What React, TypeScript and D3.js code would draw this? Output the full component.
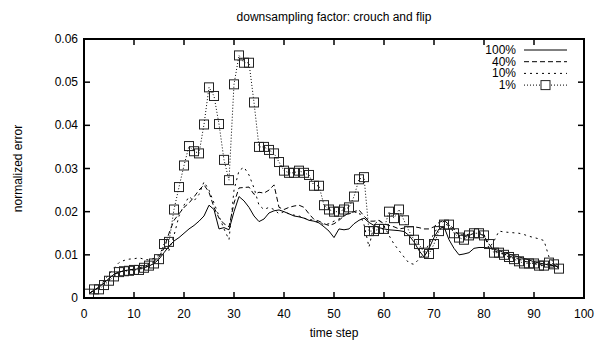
import React, { useRef, useEffect } from 'react';
import * as d3 from 'd3';

// time steps 1..95
const steps = d3.range(1, 96);

const full = [
  0.001, 0.0018, 0.0025, 0.0035, 0.0045, 0.0055, 0.006, 0.0063, 0.0065, 0.0066,
  0.0068, 0.007, 0.0074, 0.008, 0.009, 0.0105, 0.012, 0.0132, 0.014, 0.015,
  0.016, 0.0168, 0.0178, 0.019, 0.0215, 0.0205, 0.016, 0.0163, 0.0158, 0.02,
  0.0235, 0.0225, 0.021, 0.019, 0.0177, 0.0183, 0.0197, 0.0202, 0.0204, 0.02,
  0.0195, 0.019, 0.0188, 0.0185, 0.018, 0.0178, 0.0174, 0.0165, 0.0155, 0.014,
  0.016, 0.0158, 0.016, 0.0172, 0.018, 0.0185, 0.0175, 0.0168, 0.0163, 0.016,
  0.0158, 0.0157, 0.0156, 0.0154, 0.0145, 0.013, 0.011, 0.0095, 0.0115, 0.014,
  0.016, 0.0165, 0.0135, 0.0115, 0.01, 0.0102, 0.0105, 0.0115, 0.0117, 0.0117,
  0.0116, 0.0113, 0.011, 0.0105, 0.0102, 0.0098, 0.0095, 0.0092, 0.0088, 0.0084,
  0.0081, 0.0079, 0.0076, 0.0075, 0.0073,
];

const forty = [
  0.001, 0.0018, 0.0025, 0.0035, 0.0045, 0.0055, 0.006, 0.0063, 0.0065, 0.0067,
  0.007, 0.0073, 0.0078, 0.0085, 0.0095, 0.0115, 0.015, 0.018, 0.0195, 0.021,
  0.022, 0.0234, 0.025, 0.0262, 0.0245, 0.021, 0.0185, 0.0172, 0.0165, 0.022,
  0.0255, 0.0256, 0.0257, 0.024, 0.0245, 0.0243, 0.025, 0.0262, 0.021, 0.0205,
  0.021, 0.0213, 0.0215, 0.021, 0.0195, 0.0182, 0.0178, 0.0172, 0.0168, 0.0172,
  0.018, 0.019, 0.0197, 0.02, 0.0204, 0.019, 0.0178, 0.0178, 0.018, 0.0172,
  0.0168, 0.0165, 0.016, 0.0162, 0.0165, 0.0165, 0.0163, 0.016, 0.016, 0.0165,
  0.0175, 0.018, 0.017, 0.016, 0.0145, 0.0142, 0.0145, 0.015, 0.015, 0.0143,
  0.0125, 0.011, 0.0105, 0.0102, 0.0098, 0.0093, 0.009, 0.0085, 0.0083, 0.008,
  0.0078, 0.0075, 0.0078, 0.0076, 0.007,
];

const ten = [
  0.001, 0.0018, 0.0025, 0.004, 0.0055, 0.007, 0.0082, 0.0087, 0.009, 0.0091,
  0.0093, 0.009, 0.0088, 0.0092, 0.01, 0.012, 0.011, 0.0145, 0.019, 0.0215,
  0.0235, 0.0225, 0.024, 0.0269, 0.025, 0.022, 0.019, 0.016, 0.0135, 0.025,
  0.0295, 0.0303, 0.0285, 0.0255, 0.0215, 0.0205, 0.021, 0.0205, 0.0195, 0.02,
  0.0195, 0.0192, 0.019, 0.0185, 0.0182, 0.018, 0.0175, 0.017, 0.0172, 0.0178,
  0.0183, 0.019, 0.0195, 0.0198, 0.02, 0.017, 0.0118, 0.017, 0.018, 0.0168,
  0.0145, 0.0125, 0.011, 0.0095, 0.0081, 0.0078, 0.009, 0.0104, 0.0125, 0.015,
  0.0168, 0.0178, 0.0165, 0.0155, 0.0148, 0.0145, 0.0148, 0.015, 0.0152, 0.0148,
  0.0115, 0.0132, 0.0155, 0.0153, 0.0152, 0.0151, 0.015, 0.0147, 0.0143, 0.014,
  0.0137, 0.0133, 0.0095, 0.0082, 0.0075,
];

const one = [
  0.001, 0.002, 0.002, 0.003, 0.004, 0.005, 0.006, 0.0062, 0.0063, 0.0065,
  0.0065, 0.007, 0.0075, 0.008, 0.009, 0.0125, 0.013, 0.0205, 0.0257, 0.0307,
  0.0352, 0.034, 0.0335, 0.0402, 0.0488, 0.0468, 0.0403, 0.032, 0.0273, 0.0495,
  0.0562, 0.0545, 0.0545, 0.0453, 0.035, 0.035, 0.0343, 0.0335, 0.0315, 0.0295,
  0.029, 0.029, 0.0295, 0.029, 0.0285, 0.026, 0.026, 0.0215, 0.0205, 0.02,
  0.02, 0.0205, 0.021, 0.0235, 0.0275, 0.028, 0.0155, 0.0155, 0.016, 0.016,
  0.02, 0.0185, 0.0205, 0.018, 0.0155, 0.0135, 0.0125, 0.0105, 0.0102, 0.0125,
  0.0155, 0.017, 0.017, 0.015, 0.014, 0.0135, 0.0145, 0.015, 0.015, 0.0145,
  0.0125, 0.0105, 0.0105, 0.01, 0.0095, 0.009, 0.0085, 0.008, 0.008, 0.008,
  0.0075, 0.0075, 0.0082, 0.0078, 0.0068,
];

const seriesNames = ['100%', '40%', '10%', '1%'];
const seriesValues = [full, forty, ten, one];
const dashes = ['none', '5,3', '2,4', '1,2'];

const xTicks = d3.range(0, 101, 10);
const yTicks = [0, 0.01, 0.02, 0.03, 0.04, 0.05, 0.06];

const W = 597;
const H = 344;
const font = '"Liberation Sans", Arial, Helvetica, sans-serif';

const App: React.FC = () => {
  const svgRef = useRef<SVGSVGElement>(null);

  useEffect(() => {
    const svg = d3.select(svgRef.current);
    svg.selectAll('*').remove();

    const left = 84;
    const right = 584;
    const top = 39;
    const bottom = 298;

    const x = d3.scaleLinear().domain([0, 100]).range([left, right]);
    const y = d3.scaleLinear().domain([0, 0.06]).range([bottom, top]);

    svg
      .append('rect')
      .attr('width', W)
      .attr('height', H)
      .attr('fill', '#fff');

    const line = d3
      .line<number>()
      .x((_, i) => x(steps[i]))
      .y(d => y(d));

    // series lines
    seriesValues.forEach((vals, k) => {
      svg
        .append('path')
        .attr('d', line(vals) || '')
        .attr('fill', 'none')
        .attr('stroke', '#000')
        .attr('stroke-width', 1)
        .attr('stroke-dasharray', dashes[k]);
    });

    // square markers for 1%
    svg
      .append('g')
      .selectAll('rect')
      .data(one)
      .enter()
      .append('rect')
      .attr('x', (_, i) => x(steps[i]) - 4.5)
      .attr('y', d => y(d) - 4.5)
      .attr('width', 9)
      .attr('height', 9)
      .attr('fill', 'none')
      .attr('stroke', '#222')
      .attr('stroke-width', 1);

    // frame
    svg
      .append('rect')
      .attr('x', left)
      .attr('y', top)
      .attr('width', right - left)
      .attr('height', bottom - top)
      .attr('fill', 'none')
      .attr('stroke', '#000')
      .attr('stroke-width', 2);

    const ticks = svg.append('g').attr('stroke', '#000').attr('stroke-width', 1.5);
    xTicks.forEach(t => {
      ticks.append('line').attr('x1', x(t)).attr('x2', x(t)).attr('y1', bottom).attr('y2', bottom - 6);
      ticks.append('line').attr('x1', x(t)).attr('x2', x(t)).attr('y1', top).attr('y2', top + 6);
    });
    yTicks.forEach(t => {
      ticks.append('line').attr('x1', left).attr('x2', left + 6).attr('y1', y(t)).attr('y2', y(t));
      ticks.append('line').attr('x1', right).attr('x2', right - 6).attr('y1', y(t)).attr('y2', y(t));
    });

    const txt = svg.append('g').attr('font-family', font).attr('font-size', 12).attr('fill', '#000');

    xTicks.forEach(t => {
      txt
        .append('text')
        .attr('x', x(t))
        .attr('y', bottom + 20)
        .attr('text-anchor', 'middle')
        .text(String(t));
    });
    yTicks.forEach(t => {
      txt
        .append('text')
        .attr('x', left - 6)
        .attr('y', y(t) + 4)
        .attr('text-anchor', 'end')
        .text(t === 0 ? '0' : t.toFixed(2));
    });

    txt
      .append('text')
      .attr('x', (left + right) / 2)
      .attr('y', 21)
      .attr('text-anchor', 'middle')
      .text('downsampling factor: crouch and flip');
    txt
      .append('text')
      .attr('x', (left + right) / 2)
      .attr('y', 337)
      .attr('text-anchor', 'middle')
      .text('time step');
    txt
      .append('text')
      .attr('transform', `translate(22, ${(top + bottom) / 2}) rotate(-90)`)
      .attr('text-anchor', 'middle')
      .text('normalized error');

    // legend
    seriesNames.forEach((name, k) => {
      const ly = 50 + k * 11.7;
      txt
        .append('text')
        .attr('x', 516)
        .attr('y', ly + 4)
        .attr('text-anchor', 'end')
        .text(name);
      svg
        .append('line')
        .attr('x1', 524)
        .attr('x2', 567)
        .attr('y1', ly)
        .attr('y2', ly)
        .attr('stroke', '#000')
        .attr('stroke-width', 1)
        .attr('stroke-dasharray', dashes[k]);
      if (k === 3) {
        svg
          .append('rect')
          .attr('x', 545.5 - 4.5)
          .attr('y', ly - 4.5)
          .attr('width', 9)
          .attr('height', 9)
          .attr('fill', '#fff')
          .attr('stroke', '#222');
      }
    });
  }, []);

  return (
    <svg
      ref={svgRef}
      width={W}
      height={H}
      style={{ position: 'absolute', left: 0, top: 0, display: 'block' }}
    />
  );
};

export default App;
